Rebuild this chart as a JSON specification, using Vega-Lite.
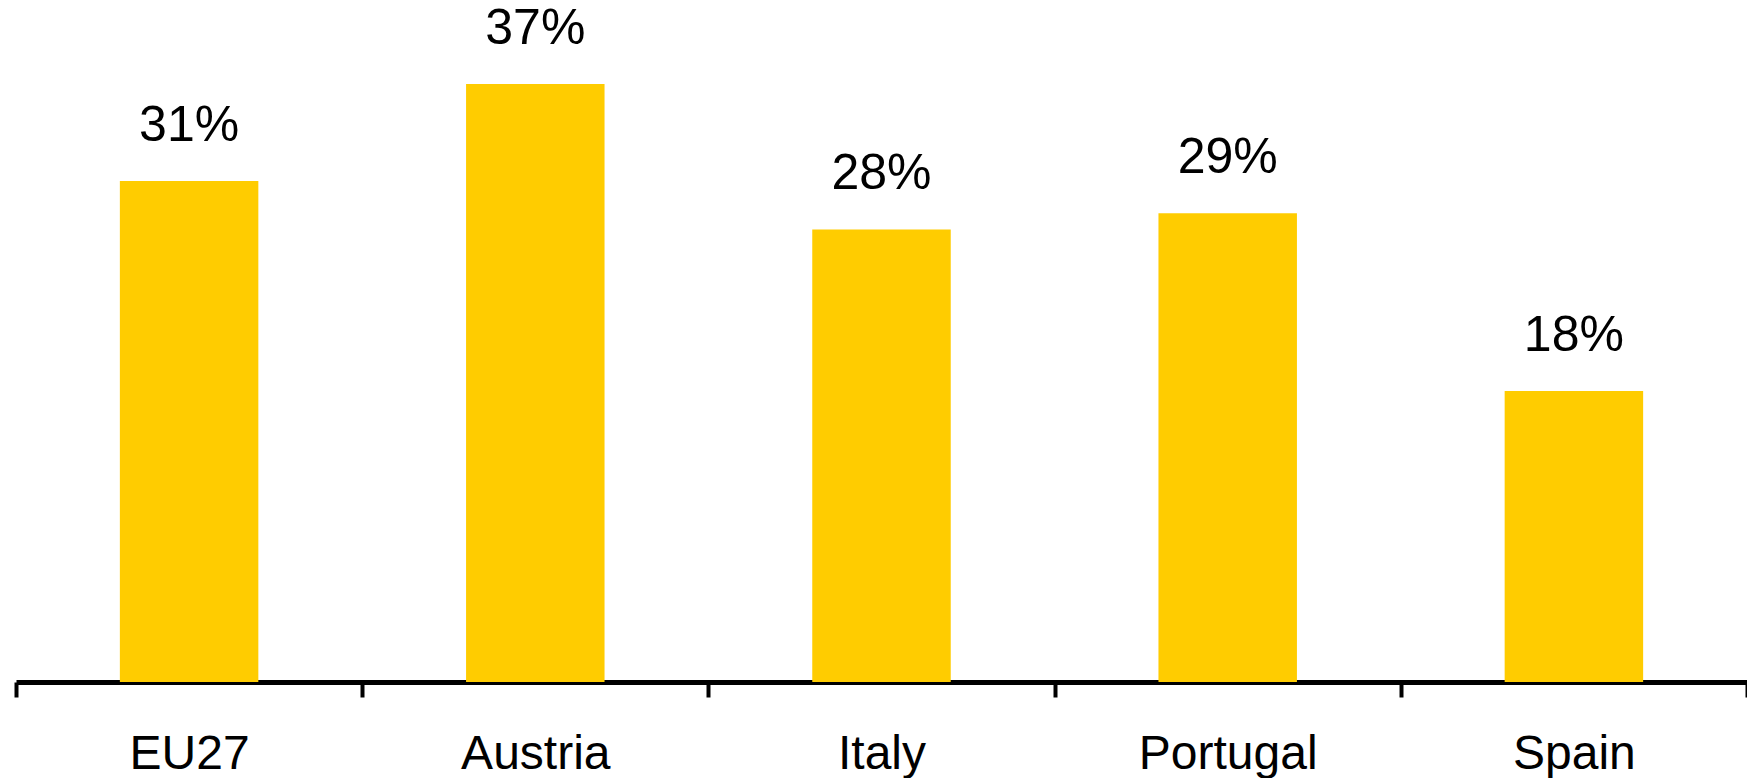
{
  "$schema": "https://vega.github.io/schema/vega-lite/v6.json",
  "autosize": "none",
  "width": 1731,
  "height": 682,
  "padding": {"left": 16, "top": 0, "right": 0, "bottom": 96},
  "background": "white",
  "config": {"view": {"stroke": null}, "font": "Liberation Sans"},
  "data": {
    "values": [
      {"country": "EU27", "share": 31, "label": "31%"},
      {"country": "Austria", "share": 37, "label": "37%"},
      {"country": "Italy", "share": 28, "label": "28%"},
      {"country": "Portugal", "share": 29, "label": "29%"},
      {"country": "Spain", "share": 18, "label": "18%"}
    ]
  },
  "encoding": {
    "x": {
      "field": "country",
      "type": "nominal",
      "sort": null,
      "scale": {"paddingInner": 0, "paddingOuter": 0},
      "axis": {
        "title": null,
        "labelAngle": 0,
        "labelFont": "Liberation Sans",
        "labelFontSize": 48,
        "labelColor": "black",
        "labelPadding": 33,
        "labelBaseline": "top",
        "tickBand": "extent",
        "tickSize": 15,
        "tickWidth": 4,
        "tickColor": "black",
        "domainColor": "black",
        "domainWidth": 5
      }
    },
    "y": {
      "field": "share",
      "type": "quantitative",
      "scale": {"domain": [0, 42.2], "nice": false},
      "axis": null
    }
  },
  "layer": [
    {"mark": {"type": "bar", "color": "#FFCC00", "width": {"band": 0.4}}},
    {
      "mark": {"type": "text", "baseline": "alphabetic", "dy": -40, "fontSize": 50, "font": "Liberation Sans", "color": "black"},
      "encoding": {"text": {"field": "label"}}
    }
  ]
}
